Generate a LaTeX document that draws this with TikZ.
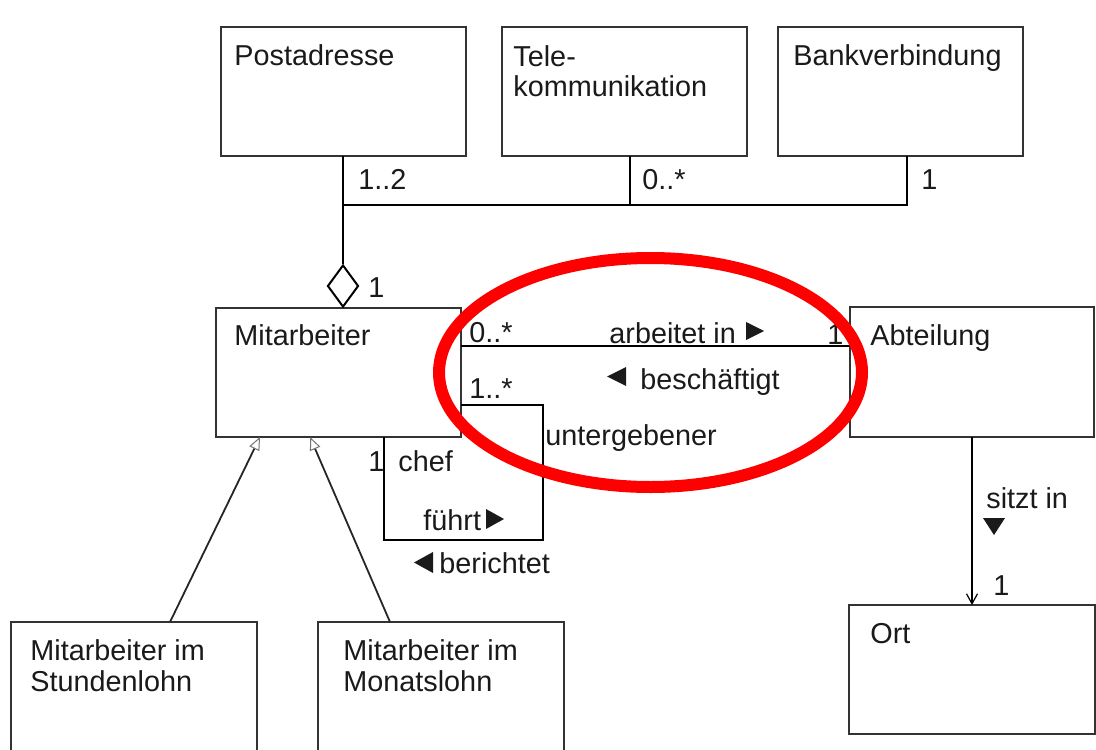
\documentclass[tikz,border=0pt]{standalone}
\usepackage{fontspec}
\setmainfont{Liberation Sans}
\usetikzlibrary{arrows.meta,shapes.geometric,calc}
\definecolor{ink}{HTML}{1A1A1A}
\definecolor{boxline}{HTML}{333333}
\definecolor{marker}{HTML}{FF0000}

\begin{document}
\begin{tikzpicture}[x=0.5pt,y=-0.5pt,
  umlbox/.style={draw=boxline, line width=1pt, fill=white, inner sep=0pt, outer sep=0pt, anchor=north west},
  txt/.style={text=ink, font=\fontsize{14.4}{15.3}\selectfont, inner sep=0pt, anchor=base west, align=left},
  assoc/.style={draw=black, line width=1.2pt},
  gen/.style={draw=black!85, line width=0.9pt,
    -{Triangle[open, length=6.5pt, width=5.5pt, line width=0.5pt, color=black!55]}},
  nav/.style={draw=black, line width=1pt,
    -{Straight Barb[length=5pt, width=5.5pt, line width=0.6pt]}},
  tri/.style={fill=ink},
  aggr/.style={draw=black, line width=1pt, fill=white, shape=diamond, inner sep=0pt,
    minimum width=15.5pt, minimum height=21pt, anchor=south}
]
\useasboundingbox (0,0) rectangle (1096,749);

% classes
\node[umlbox, minimum width=122.5pt, minimum height=64.5pt] (post) at (221,27) {};
\node[umlbox, minimum width=122.5pt, minimum height=64.5pt] (tele) at (502,27) {};
\node[umlbox, minimum width=122.5pt, minimum height=64.5pt] (bank) at (778,27) {};
\node[umlbox, minimum width=122.5pt, minimum height=64.5pt] (mit)  at (216,308) {};
\node[umlbox, minimum width=122pt,   minimum height=65pt]   (abt)  at (850,307) {};
\node[umlbox, minimum width=123pt,   minimum height=80pt]   (stu)  at (11,622) {};
\node[umlbox, minimum width=123pt,   minimum height=80pt]   (mon)  at (318,622) {};
\node[umlbox, minimum width=123pt,   minimum height=64.5pt] (ort)  at (849,605) {};

% class names (two-line names are anchored on their last line)
\node[txt] (post-t) at (234,66) {Postadresse};
\node[txt] (tele-t) at (513,97) {Tele-\\kommunikation};
\node[txt] (bank-t) at (793,66) {Bankverbindung};
\node[txt] (mit-t)  at (234,345) {Mitarbeiter};
\node[txt] (abt-t)  at (870,345) {Abteilung};
\node[txt] (stu-t)  at (30,691) {Mitarbeiter im\\Stundenlohn};
\node[txt] (mon-t)  at (343,691) {Mitarbeiter im\\Monatslohn};
\node[txt] (ort-t)  at (870,643) {Ort};

% aggregation of the contact data
\coordinate (jp) at (343,205);
\coordinate (jt) at (630,205);
\coordinate (jb) at (907,205);
\node[aggr] (dia) at (mit.north -| jp) {};
\draw[assoc] (post.south -| jp) -- (jp) -- (jb) -- (bank.south -| jb);
\draw[assoc] (tele.south -| jt) -- (jt);
\draw[assoc] (jp) -- (dia.north);
\node[txt] (m-post) at (358,189) {1..2};
\node[txt] (m-tele) at (642,189) {0..*};
\node[txt] (m-bank) at (921,189) {1};
\node[txt] (m-dia)  at (368,297) {1};

% arbeitet in / beschaeftigt
\coordinate (ay) at (0,346);
\draw[assoc] (mit.east |- ay) -- (abt.west |- ay);
\node[txt] (m-arb) at (469,342) {0..*};
\node[txt] (m-abt) at (827,344) {1};
\node[txt] (l-arb) at (609,343) {arbeitet in};
\fill[tri] (746,322) -- (764,331) -- (746,340) -- cycle;
\fill[tri] (626,367) -- (607,376.5) -- (626,386) -- cycle;
\node[txt] (l-bes) at (640,389) {beschäftigt};

% reflexive association chef / untergebener
\coordinate (s1) at (543,405);
\coordinate (s2) at (384,540);
\draw[assoc] (mit.east |- s1) -| (s1 |- s2) -| (mit.south -| s2);
\node[txt] (m-unt) at (469,398) {1..*};
\node[txt] (r-unt) at (545,445) {untergebener};
\node[txt] (m-chef) at (368,471) {1};
\node[txt] (r-chef) at (398,471) {chef};
\node[txt] (l-fue) at (423,530) {führt};
\fill[tri] (486,509) -- (504,519) -- (486,529) -- cycle;
\fill[tri] (433,552) -- (414,562.5) -- (433,573) -- cycle;
\node[txt] (l-ber) at (439,573) {berichtet};

% generalisation
\coordinate (g1) at (170,622);
\coordinate (g1t) at (260,437);
\coordinate (g2) at (390,622);
\coordinate (g2t) at (310,437);
\draw[gen] (stu.north -| g1) -- (mit.south -| g1t);
\draw[gen] (mon.north -| g2) -- (mit.south -| g2t);

% sitzt in
\draw[nav] (abt.south) -- (ort.north);
\node[txt] (l-sitzt) at (986,508) {sitzt in};
\fill[tri] (983,518) -- (1005,518) -- (994,535) -- cycle;
\node[txt] (m-ort) at (993,595) {1};

% highlight
\draw[marker, line width=6pt] (650.5,372.5) ellipse [x radius=105.75pt, y radius=57.25pt];
\end{tikzpicture}
\end{document}
